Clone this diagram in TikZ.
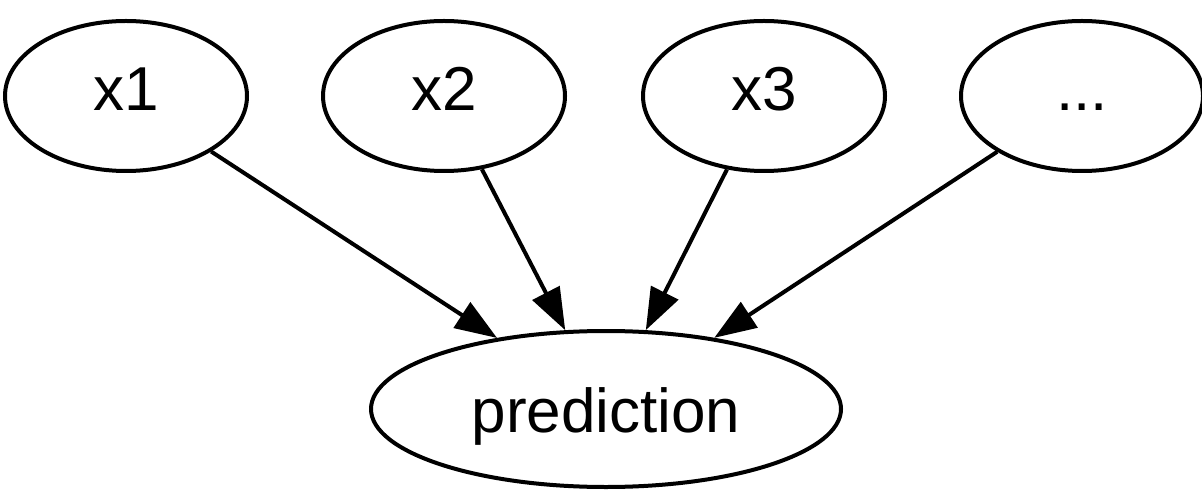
\documentclass[tikz,border=0pt]{standalone}
\usepackage{fontspec}
\setmainfont{Liberation Sans}
\usetikzlibrary{arrows.meta,shapes.geometric}
\begin{document}
\begin{tikzpicture}[x=0.5pt,y=-0.5pt,
  ell/.style={draw,ellipse,line width=2pt,inner sep=0pt,
    minimum width=242pt*0.5,minimum height=150pt*0.5,
    font=\fontsize{31}{37}\selectfont,text height=21.8pt,text depth=7pt},
  predell/.style={draw,ellipse,line width=2pt,inner sep=0pt,
    minimum width=470pt*0.5,minimum height=156pt*0.5,
    font=\fontsize{31}{37}\selectfont,text height=23pt,text depth=0pt},
  edge/.style={line width=2pt,-{Triangle[length=21pt,width=15pt]}}]
\useasboundingbox (0,0) rectangle (1202,491);
\node[ell] (x1) at (126,96) {x1};
\node[ell] (x2) at (444,96) {x2};
\node[ell] (x3) at (764,96) {x3};
\node[ell] (x4) at (1082,96) {...};
\node[predell] (p) at (606,409) {prediction};
\draw[edge] (x1) -- (p);
\draw[edge] (x2) -- (p);
\draw[edge] (x3) -- (p);
\draw[edge] (x4) -- (p);
\end{tikzpicture}
\end{document}
